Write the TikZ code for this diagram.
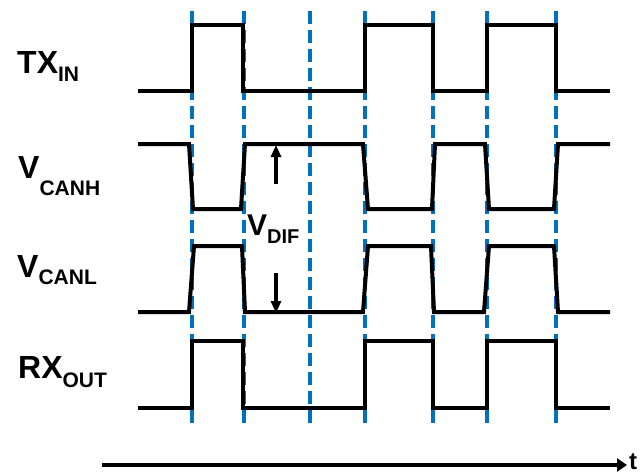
\documentclass[tikz,border=0pt]{standalone}
\usepackage{fontspec}
\setmainfont{Liberation Sans}
\usetikzlibrary{arrows.meta}
\definecolor{dashblue}{HTML}{0070C0}
\begin{document}
\begin{tikzpicture}[x=1pt,y=-1pt,
  wave/.style={line width=4pt, line join=miter, line cap=butt},
  guide/.style={dashblue, line width=3.5pt, dash pattern=on 13pt off 6pt},
  lbl/.style={anchor=base west, inner sep=0pt, font=\fontsize{32}{32}\selectfont\bfseries},
  vdif/.style={line width=3.5pt, -{Triangle[length=12pt,width=10pt]}},
  axis/.style={line width=4pt, -{Triangle[length=10pt,width=13pt]}}]
\useasboundingbox (0,0) rectangle (643,474);
\newcommand{\subtxt}[2]{\raisebox{-#1pt}{\fontsize{21}{21}\selectfont #2}}
% guide lines
\foreach \gx in {192,244,310,365,433,487,556}
  \draw[guide] (\gx,11) -- (\gx,426);
% TX_IN
\draw[wave] (138,91) -- (192,91) -- (192,25) -- (243,25) -- (243,91) -- (365,91) -- (365,25) -- (433,25) -- (433,91) -- (487,91) -- (487,25) -- (556,25) -- (556,91) -- (610,91);
% V_CANH
\draw[wave] (138,144) -- (189,144) -- (193,209) -- (241,209) -- (245,144) -- (363,144) -- (368,209) -- (432,209) -- (435,144) -- (485,144) -- (489,209) -- (554,209) -- (558,144) -- (610,144);
% V_CANL
\draw[wave] (138,312) -- (189,312) -- (194,246) -- (242,246) -- (245,312) -- (363,312) -- (368,246) -- (431,246) -- (434,312) -- (484,312) -- (489,246) -- (554,246) -- (558,312) -- (610,312);
% RX_OUT
\draw[wave] (138,408) -- (192,408) -- (192,341) -- (243,341) -- (243,408) -- (365,408) -- (365,341) -- (433,341) -- (433,408) -- (487,408) -- (487,341) -- (556,341) -- (556,408) -- (610,408);
% labels
\node[lbl] (tx) at (17,73) {TX\subtxt{8}{IN}};
\node[lbl] (vh) at (18,178) {V\subtxt{17}{CANH}};
\node[lbl] (vl) at (17,277) {V\subtxt{7}{CANL}};
\node[lbl] (rx) at (18,378) {RX\subtxt{9}{OUT}};
% V_DIF
\coordinate (upS) at (276,184);
\coordinate (upE) at (276,145);
\coordinate (dnS) at (276,273);
\coordinate (dnE) at (276,313);
\draw[vdif] (upS) -- (upE);
\draw[vdif] (dnS) -- (dnE);
\node[anchor=base west, inner sep=0pt, font=\fontsize{30}{30}\selectfont\bfseries] (vd) at (247,235) {V\raisebox{-8pt}{\fontsize{20}{20}\selectfont DIF}};
% time axis
\coordinate (a0) at (102,465);
\coordinate (a1) at (627,465);
\draw[axis] (a0) -- (a1);
\node[anchor=base west, inner sep=0pt, font=\fontsize{24}{24}\selectfont\bfseries] (t) at (629,469) {t};
\end{tikzpicture}
\end{document}
